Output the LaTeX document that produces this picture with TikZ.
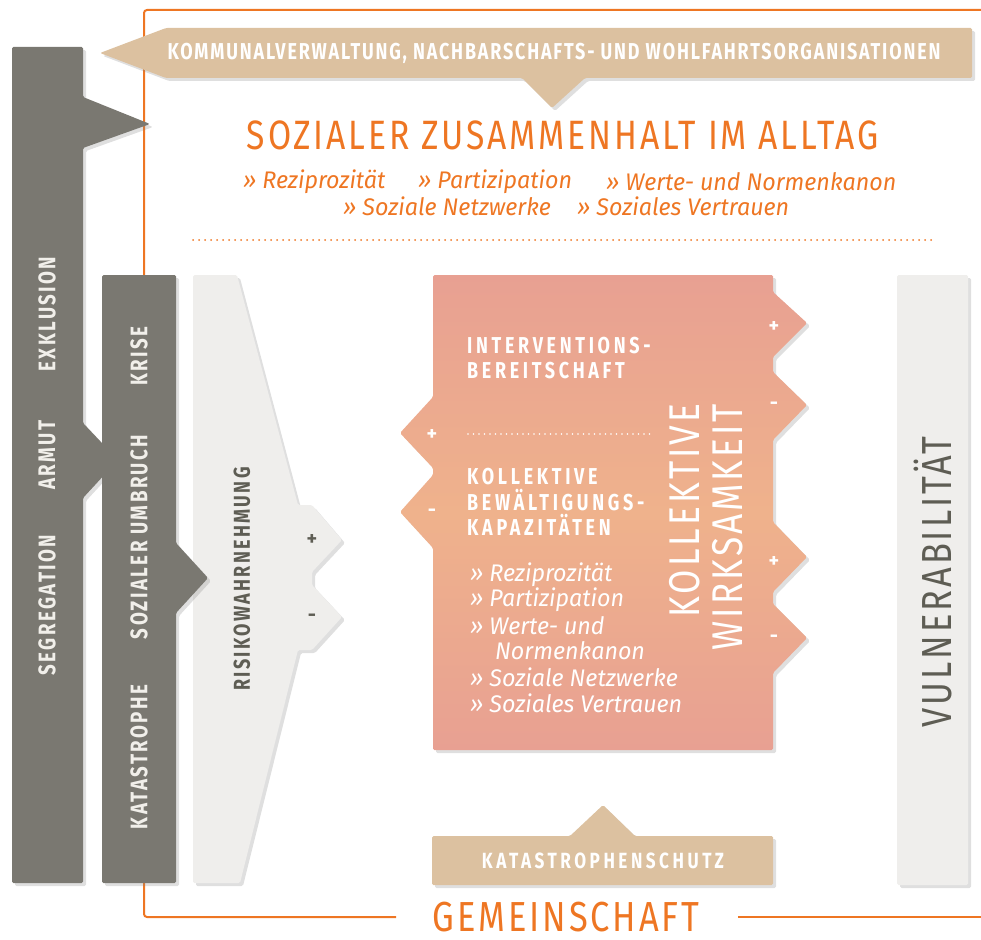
\documentclass[tikz,border=0pt]{standalone}
\usepackage{fontspec}
\setmainfont{Fira Sans}
\newfontfamily\capsfont[FakeStretch=0.78,LetterSpace=10]{Fira Sans}
\newfontfamily\widecaps[FakeStretch=0.78,LetterSpace=16]{Fira Sans}
\newfontfamily\bannerfont[FakeStretch=0.78,LetterSpace=8]{Fira Sans}
\newfontfamily\thinfont[FakeStretch=0.82,LetterSpace=7]{Fira Sans}
\newfontfamily\handfont[FakeStretch=0.97]{Fira Sans}
\usetikzlibrary{shadows}

\definecolor{frameorange}{HTML}{EE7623}
\definecolor{slate}{HTML}{7A7871}
\definecolor{paperwhite}{HTML}{EFEEEC}
\definecolor{kraft}{HTML}{DCC1A0}
\definecolor{rosetop}{HTML}{E8A092}
\definecolor{peach}{HTML}{EFB28C}
\definecolor{inkgray}{HTML}{5E5D54}
\definecolor{chalk}{HTML}{F1EFEA}

\tikzset{
  cardshadow/.style={drop shadow={shadow xshift=3pt, shadow yshift=-3pt, opacity=.25}},
  slatecard/.style={fill=slate, rounded corners=1.5pt, cardshadow},
  papercard/.style={fill=paperwhite, rounded corners=1.5pt, cardshadow},
  kraftcard/.style={fill=kraft, rounded corners=1.5pt, cardshadow},
  rosecard/.style={top color=rosetop, bottom color=rosetop, middle color=peach, rounded corners=1.5pt, cardshadow},
  frameline/.style={draw=frameorange, line width=2pt, rounded corners=3pt},
  orangedots/.style={draw=frameorange, line width=2pt, line cap=round, dash pattern=on 0pt off 6pt},
  whitedots/.style={draw=white, line width=1.6pt, line cap=round, dash pattern=on 0pt off 5.5pt},
  slatelabel/.style={text=chalk, font=\capsfont\bfseries\fontsize{24}{24}\selectfont, rotate=90, inner sep=0pt},
  paperlabel/.style={text=inkgray, font=\capsfont\bfseries\fontsize{23}{23}\selectfont, rotate=90, inner sep=0pt},
  roselabel/.style={text=white, font=\widecaps\bfseries\fontsize{23}{25.5}\selectfont, align=left, anchor=west, inner sep=0pt},
  bannertext/.style={text=white, font=\bannerfont\bfseries\fontsize{23}{23}\selectfont, inner sep=0pt},
  thinlabel/.style={font=\thinfont\fontsize{43}{43}\selectfont, inner sep=0pt},
  handitem/.style={font=\handfont\itshape\fontsize{24}{24}\selectfont, anchor=west, inner sep=0pt},
  sign/.style={text=white, font=\bfseries\fontsize{20}{20}\selectfont, inner sep=0pt}
}

\begin{document}
\begin{tikzpicture}[x=1pt,y=-1pt]
\useasboundingbox (0,0) rectangle (981,939);

% community frame
\node[thinlabel, text=frameorange, font=\thinfont\fontsize{42}{42}\selectfont] (gemeinschaft) at (566,917) {GEMEINSCHAFT};
\draw[frameline] ([xshift=-36pt]gemeinschaft.west) -- (144,917) -- (144,10) -- (981,10);
\draw[frameline] ([xshift=38pt]gemeinschaft.east) -- (981,917);

% top banner
\fill[kraftcard] (100,53) -- (166,28) -- (972,28) -- (972,78) -- (585,78) -- (552,108) -- (522,78) -- (166,78) -- cycle;
\node[bannertext] (akteure) at (554,53) {KOMMUNALVERWALTUNG, NACHBARSCHAFTS- UND WOHLFAHRTSORGANISATIONEN};

% everyday cohesion
\node[thinlabel, text=frameorange, font=\thinfont\fontsize{41}{41}\selectfont] (alltag) at (563,135) {SOZIALER ZUSAMMENHALT IM ALLTAG};
\node[handitem, text=frameorange] (reziA) at (243,182) {» Reziprozität};
\node[handitem, text=frameorange] (partA) at (418,182) {» Partizipation};
\node[handitem, text=frameorange] (werteA) at (606,182) {» Werte- und Normenkanon};
\node[handitem, text=frameorange] (netzA) at (343,206) {» Soziale Netzwerke};
\node[handitem, text=frameorange] (vertrA) at (577,206) {» Soziales Vertrauen};
\draw[orangedots] (193,240) -- (933,240);

% risk perception
\fill[papercard] (193,275) -- (237,275) -- (298,505) -- (312,505) -- (342,540) -- (312,572) -- (312,585) -- (342,617) -- (312,650) -- (298,650) -- (240,883) -- (193,883) -- cycle;
\node[paperlabel] (risiko) at (242,579) {RISIKOWAHRNEHMUNG};
\node[sign, text=inkgray] (risikoplus) at (312,540) {+};
\node[sign, text=inkgray] (risikominus) at (312,618) {-};

% structural column
\fill[slatecard] (12,47) -- (83,47) -- (83,97) -- (150,124) -- (83,148) -- (83,423) -- (118,460) -- (83,498) -- (83,883) -- (12,883) -- cycle;
\node[slatelabel] (exklusion) at (47,314) {EXKLUSION};
\node[slatelabel] (armut) at (47,455) {ARMUT};
\node[slatelabel] (segregation) at (47,605) {SEGREGATION};

% event column
\fill[slatecard] (102,275) -- (176,275) -- (176,543) -- (208,578) -- (176,613) -- (176,883) -- (102,883) -- cycle;
\node[slatelabel] (krise) at (139,356) {KRISE};
\node[slatelabel] (umbruch) at (139,537) {SOZIALER UMBRUCH};
\node[slatelabel] (katastrophe) at (139,757) {KATASTROPHE};

% collective efficacy
\path[rosecard] (433,275) -- (773,275) -- (773,292) -- (807,323) -- (773,357) -- (773,372) -- (807,405) -- (773,440) -- (773,522) -- (807,557) -- (773,592) -- (773,604) -- (807,638) -- (773,673) -- (773,750) -- (433,750) -- (433,548) -- (400,512) -- (433,475) -- (433,468) -- (400,433) -- (433,397) -- cycle;
\node[roselabel] (intervention) at (467,358) {INTERVENTIONS-\\BEREITSCHAFT};
\draw[whitedots] (468,434) -- (650,434);
\node[roselabel] (bewaeltigung) at (467,502) {KOLLEKTIVE\\BEWÄLTIGUNGS-\\KAPAZITÄTEN};
\node[handitem, text=white] (reziB) at (470,575) {» Reziprozität};
\node[handitem, text=white] (partB) at (470,600) {» Partizipation};
\node[handitem, text=white] (werteB) at (470,626) {» Werte- und};
\node[handitem, text=white] (normB) at (495,651) {Normenkanon};
\node[handitem, text=white] (netzB) at (470,677) {» Soziale Netzwerke};
\node[handitem, text=white] (vertrB) at (470,703) {» Soziales Vertrauen};
\node[thinlabel, text=white, rotate=90, align=right] (wirksamkeit) at (706,527) {KOLLEKTIVE\\WIRKSAMKEIT};
\node[sign] (rplusA) at (774,327) {+};
\node[sign] (rminusA) at (774,406) {-};
\node[sign] (rplusB) at (774,562) {+};
\node[sign] (rminusB) at (774,639) {-};
\node[sign] (lplus) at (432,435) {+};
\node[sign] (lminus) at (432,513) {-};

% vulnerability
\fill[papercard] (897,275) rectangle (968,885);
\node[thinlabel, text=inkgray, rotate=90, font=\thinfont\fontsize{42}{42}\selectfont] (vulnera) at (933,582) {VULNERABILITÄT};

% civil protection
\fill[kraftcard] (432,836) -- (570,836) -- (603,805) -- (635,836) -- (773,836) -- (773,885) -- (432,885) -- cycle;
\node[bannertext, font=\widecaps\bfseries\fontsize{22}{22}\selectfont] (schutz) at (603,861) {KATASTROPHENSCHUTZ};

\end{tikzpicture}
\end{document}
